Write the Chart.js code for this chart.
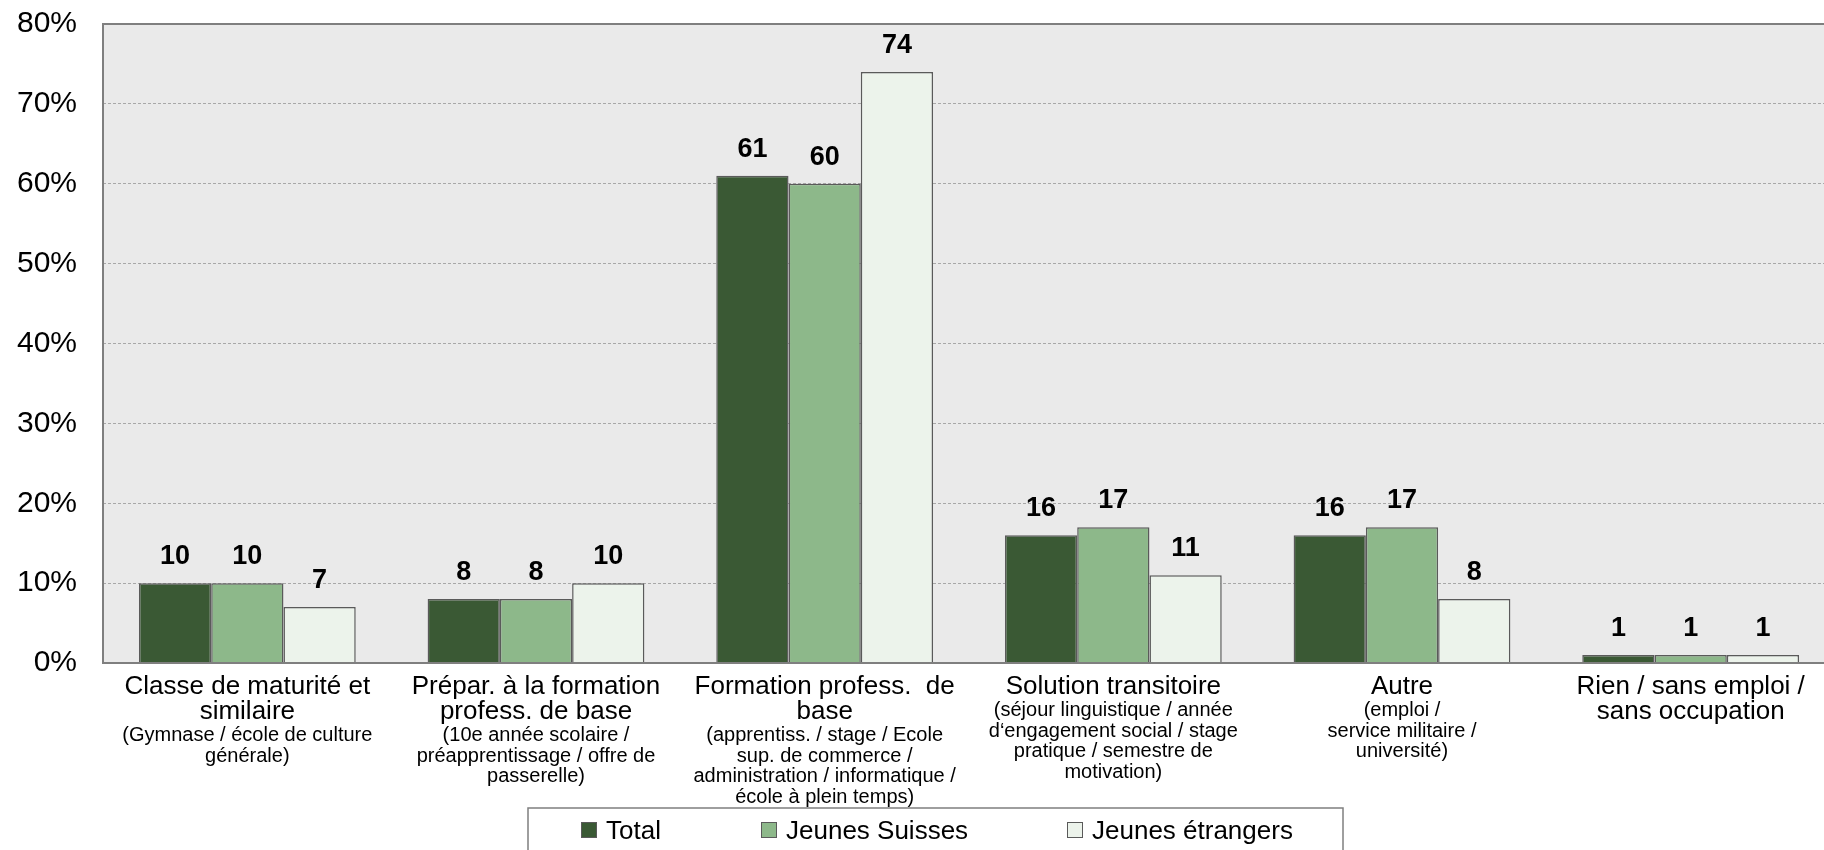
<!DOCTYPE html>
<html lang="fr">
<head>
<meta charset="utf-8">
<title>Solution après l'école obligatoire</title>
<script src="https://cdn.jsdelivr.net/npm/chart.js@4.4.1/dist/chart.umd.min.js"></script>
<style>
  html, body { margin: 0; padding: 0; background: #ffffff; overflow: hidden; }
  #wrap { position: relative; width: 1835px; height: 850px; }
</style>
</head>
<body>
<div id="wrap"><canvas id="chart" width="1835" height="850"></canvas></div>
<script>
// Données du graphique
const categoryLabels = [
    ['Classe de maturité et', 'similaire'],
    ['Prépar. à la formation', 'profess. de base'],
    ['Formation profess.  de', 'base'],
    ['Solution transitoire'],
    ['Autre'],
    ['Rien / sans emploi /', 'sans occupation']
];
const categoryNotes = [
    ['(Gymnase / école de culture', 'générale)'],
    ['(10e année scolaire /', 'préapprentissage / offre de', 'passerelle)'],
    ['(apprentiss. / stage / Ecole', 'sup. de commerce /', 'administration / informatique /', 'école à plein temps)'],
    ['(séjour linguistique / année', 'd‘engagement social / stage', 'pratique / semestre de', 'motivation)'],
    ['(emploi /', 'service militaire /', 'université)'],
    []
];
const seriesNames = ['Total', 'Jeunes Suisses', 'Jeunes étrangers'];
const totalValues = [10, 8, 61, 16, 16, 1];
const suissesValues = [10, 8, 60, 17, 17, 1];
const etrangersValues = [7, 10, 74, 11, 8, 1];
const yMin = 0;
const yMax = 80;
const yStep = 10;

const FONT = "'Liberation Sans', Arial, sans-serif";
const COLORS = ['#3a5934', '#8db88a', '#ecf3eb'];
const BAR_BORDER = '#5a5a5a';

// fond gris + cadre de la zone de tracé
const plotFrame = {
    id: 'plotFrame',
    beforeDraw(chart) {
        const { ctx, chartArea: a } = chart;
        ctx.save();
        ctx.fillStyle = '#eaeaea';
        ctx.fillRect(a.left, a.top, a.right - a.left, a.bottom - a.top);
        ctx.restore();
    },
    afterDatasetsDraw(chart) {
        const { ctx, chartArea: a } = chart;
        ctx.save();
        ctx.strokeStyle = '#7f7f7f';
        ctx.lineWidth = 2;
        ctx.strokeRect(a.left, a.top, a.right - a.left, a.bottom - a.top);
        ctx.restore();
    }
};

// valeurs au-dessus des barres
const valueLabels = {
    id: 'valueLabels',
    afterDatasetsDraw(chart) {
        const ctx = chart.ctx;
        ctx.save();
        ctx.font = 'bold 27px ' + FONT;
        ctx.fillStyle = '#000000';
        ctx.textAlign = 'center';
        ctx.textBaseline = 'alphabetic';
        chart.data.datasets.forEach((ds, i) => {
            chart.getDatasetMeta(i).data.forEach((bar, j) => {
                ctx.fillText(String(ds.data[j]), bar.x, bar.y - 19);
            });
        });
        ctx.restore();
    }
};

// libellés des catégories (titre + précision en plus petit)
const categoryText = {
    id: 'categoryText',
    afterDraw(chart) {
        const ctx = chart.ctx;
        const xs = chart.scales.x;
        const base = chart.chartArea.bottom;
        ctx.save();
        ctx.fillStyle = '#000000';
        ctx.textAlign = 'center';
        ctx.textBaseline = 'alphabetic';
        categoryLabels.forEach((lines, i) => {
            const cx = xs.getPixelForTick(i);
            let y = base + 31;
            ctx.font = '26px ' + FONT;
            lines.forEach((t, k) => {
                if (k > 0) y += 25;
                ctx.fillText(t, cx, y);
            });
            ctx.font = '20px ' + FONT;
            y += 1.5;
            categoryNotes[i].forEach(t => {
                y += 20.5;
                ctx.fillText(t, cx, y);
            });
        });
        ctx.restore();
    }
};

// légende encadrée en bas
const boxedLegend = {
    id: 'boxedLegend',
    afterDraw(chart) {
        const ctx = chart.ctx;
        const frame = { left: 528, top: 808, right: 1343, bottom: 870 };
        const itemX = [581, 761, 1067];
        ctx.save();
        ctx.strokeStyle = '#7f7f7f';
        ctx.lineWidth = 1.5;
        ctx.strokeRect(frame.left, frame.top, frame.right - frame.left, frame.bottom - frame.top);
        ctx.font = '26px ' + FONT;
        ctx.textAlign = 'left';
        ctx.textBaseline = 'alphabetic';
        chart.data.datasets.forEach((ds, i) => {
            const x = itemX[i];
            ctx.fillStyle = ds.backgroundColor;
            ctx.fillRect(x, 822, 16, 16);
            ctx.strokeStyle = BAR_BORDER;
            ctx.lineWidth = 1;
            ctx.strokeRect(x + 0.5, 822.5, 15, 15);
            ctx.fillStyle = '#000000';
            ctx.fillText(ds.label, x + 25, 839);
        });
        ctx.restore();
    }
};

const seriesValues = [totalValues, suissesValues, etrangersValues];

new Chart(document.getElementById('chart'), {
    type: 'bar',
    data: {
        labels: categoryLabels,
        datasets: seriesNames.map((name, i) => ({
            label: name,
            data: seriesValues[i],
            backgroundColor: COLORS[i],
            borderColor: BAR_BORDER,
            borderWidth: 1.5,
            categoryPercentage: 0.751,
            barPercentage: 1
        }))
    },
    options: {
        responsive: false,
        animation: false,
        devicePixelRatio: 1,
        layout: { padding: { top: 24, right: 0, bottom: 0, left: 0 } },
        plugins: {
            legend: { display: false },
            tooltip: { enabled: false }
        },
        scales: {
            x: {
                grid: { display: false },
                border: { display: false },
                ticks: { display: false },
                afterFit: s => { s.height = 187; }
            },
            y: {
                min: yMin,
                max: yMax,
                ticks: {
                    stepSize: yStep,
                    padding: 26,
                    color: '#000000',
                    font: { family: FONT, size: 30 },
                    callback: v => v + '%'
                },
                grid: { color: '#a8a8a8', lineWidth: 1, drawTicks: false },
                border: { display: false, dash: [3, 2] },
                afterFit: s => {
                    s.width = 103;
                    s.paddingTop = 0;
                    s.paddingBottom = 0;
                }
            }
        }
    },
    plugins: [plotFrame, valueLabels, categoryText, boxedLegend]
});
</script>
</body>
</html>
